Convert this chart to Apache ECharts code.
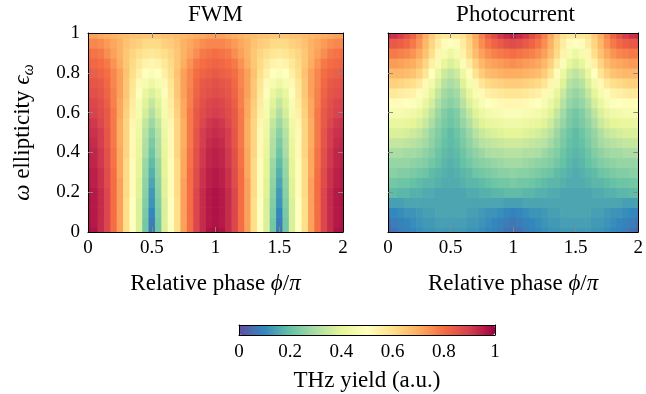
<!DOCTYPE html>
<html><head><meta charset="utf-8">
<script src="https://cdn.jsdelivr.net/npm/echarts@6/dist/echarts.min.js"></script>
<style>html,body{margin:0;padding:0;background:#fff}#c{width:646px;height:394px}</style>
</head><body><div id="c"></div>
<script>
// ---- data ----
const phase = [0,0.05,0.1,0.15,0.2,0.25,0.3,0.35,0.4,0.45,0.5,0.55,0.6,0.65,0.7,0.75,0.8,0.85,0.9,0.95,1,1.05,1.1,1.15,1.2,1.25,1.3,1.35,1.4,1.45,1.5,1.55,1.6,1.65,1.7,1.75,1.8,1.85,1.9,1.95,2];
const ellipticity = [0,0.05,0.1,0.15,0.2,0.25,0.3,0.35,0.4,0.45,0.5,0.55,0.6,0.65,0.7,0.75,0.8,0.85,0.9,0.95,1];

// rows: one per ellipticity value (bottom to top), columns: phase
const fwmRows = [
[0.98,0.97,0.93,0.88,0.80,0.72,0.60,0.50,0.38,0.22,0.07,0.22,0.38,0.50,0.60,0.72,0.80,0.88,0.93,0.97,0.98,0.97,0.93,0.88,0.80,0.72,0.60,0.50,0.38,0.22,0.07,0.22,0.38,0.50,0.60,0.72,0.80,0.88,0.93,0.97,0.98],
[0.97,0.96,0.93,0.88,0.80,0.72,0.60,0.50,0.38,0.22,0.08,0.22,0.38,0.50,0.60,0.72,0.80,0.88,0.93,0.96,0.97,0.96,0.93,0.88,0.80,0.72,0.60,0.50,0.38,0.22,0.08,0.22,0.38,0.50,0.60,0.72,0.80,0.88,0.93,0.96,0.97],
[0.97,0.96,0.93,0.88,0.80,0.72,0.60,0.50,0.38,0.23,0.10,0.23,0.38,0.50,0.60,0.72,0.80,0.88,0.93,0.96,0.97,0.96,0.93,0.88,0.80,0.72,0.60,0.50,0.38,0.23,0.10,0.23,0.38,0.50,0.60,0.72,0.80,0.88,0.93,0.96,0.97],
[0.97,0.96,0.93,0.88,0.80,0.72,0.60,0.50,0.38,0.24,0.12,0.24,0.38,0.50,0.60,0.72,0.80,0.88,0.93,0.96,0.97,0.96,0.93,0.88,0.80,0.72,0.60,0.50,0.38,0.24,0.12,0.24,0.38,0.50,0.60,0.72,0.80,0.88,0.93,0.96,0.97],
[0.97,0.96,0.93,0.88,0.80,0.72,0.61,0.51,0.39,0.25,0.13,0.25,0.39,0.51,0.61,0.72,0.80,0.88,0.93,0.96,0.97,0.96,0.93,0.88,0.80,0.72,0.61,0.51,0.39,0.25,0.13,0.25,0.39,0.51,0.61,0.72,0.80,0.88,0.93,0.96,0.97],
[0.96,0.95,0.92,0.87,0.80,0.72,0.61,0.51,0.39,0.26,0.15,0.26,0.39,0.51,0.61,0.72,0.80,0.87,0.92,0.95,0.96,0.95,0.92,0.87,0.80,0.72,0.61,0.51,0.39,0.26,0.15,0.26,0.39,0.51,0.61,0.72,0.80,0.87,0.92,0.95,0.96],
[0.96,0.95,0.92,0.87,0.80,0.71,0.61,0.51,0.40,0.27,0.17,0.27,0.40,0.51,0.61,0.71,0.80,0.87,0.92,0.95,0.96,0.95,0.92,0.87,0.80,0.71,0.61,0.51,0.40,0.27,0.17,0.27,0.40,0.51,0.61,0.71,0.80,0.87,0.92,0.95,0.96],
[0.95,0.94,0.91,0.86,0.79,0.71,0.61,0.51,0.40,0.28,0.19,0.28,0.40,0.51,0.61,0.71,0.79,0.86,0.91,0.94,0.95,0.94,0.91,0.86,0.79,0.71,0.61,0.51,0.40,0.28,0.19,0.28,0.40,0.51,0.61,0.71,0.79,0.86,0.91,0.94,0.95],
[0.95,0.94,0.91,0.86,0.79,0.71,0.62,0.52,0.41,0.30,0.21,0.30,0.41,0.52,0.62,0.71,0.79,0.86,0.91,0.94,0.95,0.94,0.91,0.86,0.79,0.71,0.62,0.52,0.41,0.30,0.21,0.30,0.41,0.52,0.62,0.71,0.79,0.86,0.91,0.94,0.95],
[0.94,0.93,0.90,0.85,0.78,0.70,0.62,0.52,0.42,0.31,0.23,0.31,0.42,0.52,0.62,0.70,0.78,0.85,0.90,0.93,0.94,0.93,0.90,0.85,0.78,0.70,0.62,0.52,0.42,0.31,0.23,0.31,0.42,0.52,0.62,0.70,0.78,0.85,0.90,0.93,0.94],
[0.93,0.92,0.90,0.85,0.78,0.70,0.62,0.52,0.43,0.32,0.25,0.32,0.43,0.52,0.62,0.70,0.78,0.85,0.90,0.92,0.93,0.92,0.90,0.85,0.78,0.70,0.62,0.52,0.43,0.32,0.25,0.32,0.43,0.52,0.62,0.70,0.78,0.85,0.90,0.92,0.93],
[0.92,0.91,0.88,0.84,0.78,0.70,0.62,0.53,0.44,0.34,0.28,0.34,0.44,0.53,0.62,0.70,0.78,0.84,0.88,0.91,0.92,0.91,0.88,0.84,0.78,0.70,0.62,0.53,0.44,0.34,0.28,0.34,0.44,0.53,0.62,0.70,0.78,0.84,0.88,0.91,0.92],
[0.90,0.89,0.87,0.84,0.78,0.71,0.63,0.55,0.46,0.37,0.31,0.37,0.46,0.55,0.63,0.71,0.78,0.84,0.87,0.89,0.90,0.89,0.87,0.84,0.78,0.71,0.63,0.55,0.46,0.37,0.31,0.37,0.46,0.55,0.63,0.71,0.78,0.84,0.87,0.89,0.90],
[0.89,0.88,0.86,0.83,0.77,0.71,0.64,0.56,0.47,0.39,0.34,0.39,0.47,0.56,0.64,0.71,0.77,0.83,0.86,0.88,0.89,0.88,0.86,0.83,0.77,0.71,0.64,0.56,0.47,0.39,0.34,0.39,0.47,0.56,0.64,0.71,0.77,0.83,0.86,0.88,0.89],
[0.87,0.86,0.85,0.82,0.77,0.72,0.65,0.57,0.49,0.42,0.38,0.42,0.49,0.57,0.65,0.72,0.77,0.82,0.85,0.86,0.87,0.86,0.85,0.82,0.77,0.72,0.65,0.57,0.49,0.42,0.38,0.42,0.49,0.57,0.65,0.72,0.77,0.82,0.85,0.86,0.87],
[0.86,0.85,0.84,0.81,0.76,0.72,0.65,0.58,0.52,0.46,0.43,0.46,0.52,0.58,0.65,0.72,0.76,0.81,0.84,0.85,0.86,0.85,0.84,0.81,0.76,0.72,0.65,0.58,0.52,0.46,0.43,0.46,0.52,0.58,0.65,0.72,0.76,0.81,0.84,0.85,0.86],
[0.84,0.83,0.82,0.80,0.76,0.72,0.66,0.60,0.55,0.50,0.48,0.50,0.55,0.60,0.66,0.72,0.76,0.80,0.82,0.83,0.84,0.83,0.82,0.80,0.76,0.72,0.66,0.60,0.55,0.50,0.48,0.50,0.55,0.60,0.66,0.72,0.76,0.80,0.82,0.83,0.84],
[0.82,0.81,0.80,0.78,0.74,0.70,0.65,0.61,0.57,0.54,0.53,0.54,0.57,0.61,0.65,0.70,0.74,0.78,0.80,0.81,0.82,0.81,0.80,0.78,0.74,0.70,0.65,0.61,0.57,0.54,0.53,0.54,0.57,0.61,0.65,0.70,0.74,0.78,0.80,0.81,0.82],
[0.80,0.79,0.78,0.75,0.72,0.69,0.65,0.62,0.60,0.58,0.57,0.58,0.60,0.62,0.65,0.69,0.72,0.75,0.78,0.79,0.80,0.79,0.78,0.75,0.72,0.69,0.65,0.62,0.60,0.58,0.57,0.58,0.60,0.62,0.65,0.69,0.72,0.75,0.78,0.79,0.80],
[0.76,0.76,0.75,0.73,0.71,0.69,0.66,0.64,0.63,0.61,0.61,0.61,0.63,0.64,0.66,0.69,0.71,0.73,0.75,0.76,0.76,0.76,0.75,0.73,0.71,0.69,0.66,0.64,0.63,0.61,0.61,0.61,0.63,0.64,0.66,0.69,0.71,0.73,0.75,0.76,0.76],
[0.72,0.72,0.71,0.70,0.69,0.68,0.67,0.66,0.66,0.65,0.65,0.65,0.66,0.66,0.67,0.68,0.69,0.70,0.71,0.72,0.72,0.72,0.71,0.70,0.69,0.68,0.67,0.66,0.66,0.65,0.65,0.65,0.66,0.66,0.67,0.68,0.69,0.70,0.71,0.72,0.72]
];

const photoRows = [
[0.04,0.06,0.08,0.09,0.10,0.11,0.12,0.12,0.13,0.13,0.13,0.13,0.13,0.12,0.12,0.11,0.10,0.09,0.08,0.06,0.05,0.06,0.08,0.09,0.10,0.11,0.12,0.12,0.13,0.13,0.13,0.13,0.13,0.12,0.12,0.11,0.10,0.09,0.08,0.06,0.04],
[0.06,0.08,0.09,0.10,0.11,0.12,0.13,0.13,0.14,0.14,0.14,0.14,0.14,0.13,0.13,0.12,0.11,0.10,0.09,0.08,0.07,0.08,0.09,0.10,0.11,0.12,0.13,0.13,0.14,0.14,0.14,0.14,0.14,0.13,0.13,0.12,0.11,0.10,0.09,0.08,0.06],
[0.09,0.10,0.11,0.12,0.12,0.13,0.14,0.14,0.15,0.15,0.15,0.15,0.15,0.14,0.14,0.13,0.12,0.12,0.11,0.10,0.09,0.10,0.11,0.12,0.12,0.13,0.14,0.14,0.15,0.15,0.15,0.15,0.15,0.14,0.14,0.13,0.12,0.12,0.11,0.10,0.09],
[0.14,0.14,0.14,0.15,0.15,0.15,0.15,0.15,0.15,0.15,0.15,0.15,0.15,0.15,0.15,0.15,0.15,0.15,0.15,0.14,0.14,0.14,0.15,0.15,0.15,0.15,0.15,0.15,0.15,0.15,0.15,0.15,0.15,0.15,0.15,0.15,0.15,0.15,0.14,0.14,0.14],
[0.19,0.19,0.18,0.18,0.17,0.17,0.16,0.16,0.15,0.15,0.15,0.15,0.15,0.16,0.16,0.17,0.17,0.18,0.18,0.19,0.19,0.19,0.18,0.18,0.17,0.17,0.16,0.16,0.15,0.15,0.15,0.15,0.15,0.16,0.16,0.17,0.17,0.18,0.18,0.19,0.19],
[0.22,0.22,0.21,0.21,0.20,0.19,0.18,0.18,0.17,0.16,0.16,0.16,0.17,0.18,0.18,0.19,0.20,0.21,0.22,0.22,0.23,0.22,0.22,0.21,0.20,0.19,0.18,0.18,0.17,0.16,0.16,0.16,0.17,0.18,0.18,0.19,0.20,0.21,0.21,0.22,0.22],
[0.25,0.25,0.24,0.24,0.23,0.22,0.21,0.19,0.18,0.17,0.16,0.17,0.18,0.19,0.21,0.22,0.23,0.24,0.25,0.25,0.26,0.25,0.25,0.24,0.23,0.22,0.21,0.19,0.18,0.17,0.16,0.17,0.18,0.19,0.21,0.22,0.23,0.24,0.24,0.25,0.25],
[0.27,0.27,0.27,0.27,0.26,0.25,0.24,0.22,0.20,0.18,0.17,0.18,0.20,0.22,0.24,0.25,0.26,0.27,0.28,0.29,0.29,0.29,0.28,0.27,0.26,0.25,0.24,0.22,0.20,0.18,0.17,0.18,0.20,0.22,0.24,0.25,0.26,0.27,0.27,0.27,0.27],
[0.30,0.30,0.30,0.29,0.29,0.28,0.26,0.24,0.21,0.19,0.18,0.19,0.21,0.24,0.26,0.28,0.30,0.31,0.31,0.32,0.32,0.32,0.31,0.31,0.30,0.28,0.26,0.24,0.21,0.19,0.18,0.19,0.21,0.24,0.26,0.28,0.29,0.29,0.30,0.30,0.30],
[0.34,0.34,0.34,0.33,0.32,0.31,0.29,0.26,0.23,0.20,0.19,0.20,0.23,0.26,0.29,0.32,0.33,0.34,0.35,0.36,0.36,0.36,0.35,0.34,0.33,0.32,0.29,0.26,0.23,0.20,0.19,0.20,0.23,0.26,0.29,0.31,0.32,0.33,0.34,0.34,0.34],
[0.38,0.38,0.38,0.37,0.36,0.34,0.31,0.27,0.24,0.21,0.19,0.21,0.24,0.28,0.32,0.35,0.37,0.38,0.39,0.40,0.40,0.40,0.39,0.38,0.37,0.35,0.32,0.28,0.24,0.21,0.19,0.21,0.24,0.27,0.31,0.34,0.36,0.37,0.38,0.38,0.38],
[0.42,0.42,0.42,0.41,0.40,0.38,0.35,0.30,0.26,0.23,0.21,0.23,0.27,0.31,0.36,0.39,0.41,0.42,0.43,0.44,0.44,0.44,0.43,0.42,0.41,0.39,0.36,0.31,0.27,0.23,0.21,0.23,0.26,0.30,0.35,0.38,0.40,0.41,0.42,0.42,0.42],
[0.46,0.46,0.46,0.45,0.44,0.42,0.38,0.33,0.28,0.24,0.22,0.24,0.29,0.34,0.39,0.43,0.45,0.46,0.47,0.48,0.48,0.48,0.47,0.46,0.45,0.43,0.39,0.34,0.29,0.24,0.22,0.24,0.28,0.33,0.38,0.42,0.44,0.45,0.46,0.46,0.46],
[0.51,0.51,0.51,0.50,0.49,0.47,0.42,0.37,0.31,0.27,0.25,0.27,0.32,0.38,0.43,0.47,0.50,0.51,0.52,0.53,0.53,0.53,0.52,0.51,0.50,0.47,0.43,0.38,0.32,0.27,0.25,0.27,0.31,0.37,0.42,0.47,0.49,0.50,0.51,0.51,0.51],
[0.57,0.57,0.56,0.55,0.54,0.51,0.46,0.40,0.34,0.29,0.27,0.29,0.35,0.41,0.47,0.52,0.55,0.56,0.57,0.58,0.58,0.58,0.57,0.56,0.55,0.52,0.47,0.41,0.35,0.29,0.27,0.29,0.34,0.40,0.46,0.51,0.54,0.55,0.56,0.57,0.57],
[0.63,0.63,0.62,0.61,0.60,0.57,0.52,0.45,0.38,0.32,0.30,0.32,0.39,0.46,0.53,0.58,0.61,0.62,0.63,0.64,0.64,0.64,0.63,0.62,0.61,0.58,0.53,0.46,0.39,0.32,0.30,0.32,0.38,0.45,0.52,0.57,0.60,0.61,0.62,0.63,0.63],
[0.68,0.68,0.68,0.67,0.66,0.63,0.58,0.50,0.42,0.36,0.33,0.36,0.43,0.51,0.59,0.64,0.67,0.68,0.69,0.70,0.70,0.70,0.69,0.68,0.67,0.64,0.59,0.51,0.43,0.36,0.33,0.36,0.42,0.50,0.58,0.63,0.66,0.67,0.68,0.68,0.68],
[0.73,0.73,0.72,0.71,0.70,0.67,0.62,0.55,0.47,0.41,0.38,0.41,0.48,0.56,0.63,0.68,0.71,0.72,0.73,0.74,0.75,0.74,0.73,0.72,0.71,0.68,0.63,0.56,0.48,0.41,0.38,0.41,0.47,0.55,0.62,0.67,0.70,0.71,0.72,0.73,0.73],
[0.78,0.78,0.77,0.76,0.74,0.71,0.66,0.60,0.53,0.46,0.43,0.46,0.54,0.61,0.67,0.72,0.75,0.77,0.78,0.79,0.80,0.79,0.78,0.77,0.75,0.72,0.67,0.61,0.54,0.46,0.43,0.46,0.53,0.60,0.66,0.71,0.74,0.76,0.77,0.78,0.78],
[0.85,0.84,0.83,0.81,0.78,0.74,0.68,0.62,0.56,0.51,0.50,0.51,0.56,0.62,0.69,0.75,0.79,0.82,0.84,0.86,0.87,0.86,0.84,0.82,0.79,0.75,0.69,0.62,0.56,0.51,0.50,0.51,0.56,0.62,0.68,0.74,0.78,0.81,0.83,0.84,0.85],
[0.93,0.92,0.90,0.86,0.82,0.76,0.70,0.64,0.59,0.57,0.57,0.57,0.59,0.64,0.71,0.77,0.83,0.87,0.91,0.93,0.95,0.93,0.91,0.87,0.83,0.77,0.71,0.64,0.59,0.57,0.57,0.57,0.59,0.64,0.70,0.76,0.82,0.86,0.90,0.92,0.93]
];

const panelTitles = ['FWM', 'Photocurrent'];
const xTickMarks = [0.5, 1, 1.5];
const yTickMarks = [0.2, 0.4, 0.6, 0.8];
const spectral = ['#5e4fa2','#3288bd','#66c2a5','#abdda4','#e6f598','#ffffbf','#fee08b','#fdae61','#f46d43','#d53e4f','#9e0142'];

// ---- chart ----
const FONT = 'Liberation Serif';
const grids = [
  {left: 88, top: 33, width: 255, height: 199},
  {left: 388, top: 33, width: 255, height: 199},
  {left: 239, top: 325, width: 256, height: 10}
];
function cells(rows) {
  const out = [];
  rows.forEach((row, j) => row.forEach((v, i) => out.push([phase[i], ellipticity[j], v])));
  return out;
}
const dx = phase[1] - phase[0], dy = ellipticity[1] - ellipticity[0];
function renderCell(params, api) {
  const x = api.value(0), y = api.value(1);
  const a = api.coord([x - dx / 2, y + dy / 2]);
  const b = api.coord([x + dx / 2, y - dy / 2]);
  return {type: 'rect', shape: {x: a[0], y: a[1], width: b[0] - a[0] + 0.7, height: b[1] - a[1] + 0.7},
          style: {fill: api.visual('color')}};
}
const lbl = {fontFamily: FONT, fontSize: 19, color: '#000'};
const line = {show: true, onZero: false, lineStyle: {color: '#000', width: 1}};
const xAxes = [], yAxes = [];
[0, 1].forEach(g => {
  xAxes.push({type: 'value', gridIndex: g, position: 'bottom', min: 0, max: 2, interval: 0.5, z: 10,
    axisLine: line, splitLine: {show: false},
    axisTick: {show: true, inside: true, length: 5, customValues: xTickMarks, lineStyle: {color: '#888'}},
    axisLabel: Object.assign({margin: 7, formatter: v => String(v)}, lbl),
    name: 'Relative phase {i|ϕ}/{i|π}', nameLocation: 'middle', nameGap: 40,
    nameTextStyle: {fontFamily: FONT, fontSize: 23, color: '#000',
      rich: {i: {fontFamily: FONT, fontSize: 23, fontStyle: 'italic', color: '#000'}}}});
  xAxes.push({type: 'value', gridIndex: g, position: 'top', min: 0, max: 2, interval: 0.5, z: 10,
    axisLine: line, splitLine: {show: false}, axisLabel: {show: false},
    axisTick: {show: true, inside: true, length: 5, customValues: xTickMarks, lineStyle: {color: '#888'}}});
  yAxes.push({type: 'value', gridIndex: g, position: 'left', min: 0, max: 1, interval: 0.2, z: 10,
    axisLine: line, splitLine: {show: false},
    axisTick: {show: true, inside: true, length: 5, customValues: yTickMarks, lineStyle: {color: '#888'}},
    axisLabel: Object.assign({show: g === 0, margin: 8, formatter: v => String(v)}, lbl),
    name: g === 0 ? '{i|ω} ellipticity {i|ϵ}{s|ω}' : '', nameLocation: 'middle', nameGap: 51, nameRotate: 90,
    nameTextStyle: {fontFamily: FONT, fontSize: 23, color: '#000',
      rich: {i: {fontFamily: FONT, fontSize: 23, fontStyle: 'italic', color: '#000'},
             s: {fontFamily: FONT, fontSize: 16, fontStyle: 'italic', color: '#000', padding: [12, 0, 0, 0]}}}});
  yAxes.push({type: 'value', gridIndex: g, position: 'right', min: 0, max: 1, interval: 0.2, z: 10,
    axisLine: line, splitLine: {show: false}, axisLabel: {show: false},
    axisTick: {show: true, inside: true, length: 5, customValues: yTickMarks, lineStyle: {color: '#888'}}});
});
// colour bar frame + labels
xAxes.push({type: 'value', gridIndex: 2, position: 'bottom', min: 0, max: 1, interval: 0.2, z: 10,
  axisLine: line, splitLine: {show: false}, axisTick: {show: false},
  axisLabel: Object.assign({margin: 8, formatter: v => String(v)}, lbl),
  name: 'THz yield (a.u.)', nameLocation: 'middle', nameGap: 34,
  nameTextStyle: {fontFamily: FONT, fontSize: 23, color: '#000'}});
xAxes.push({type: 'value', gridIndex: 2, position: 'top', min: 0, max: 1, z: 10,
  axisLine: line, splitLine: {show: false}, axisTick: {show: false}, axisLabel: {show: false}});
yAxes.push({type: 'value', gridIndex: 2, position: 'left', min: 0, max: 1, z: 10,
  axisLine: line, splitLine: {show: false}, axisTick: {show: false}, axisLabel: {show: false}});
yAxes.push({type: 'value', gridIndex: 2, position: 'right', min: 0, max: 1, z: 10,
  axisLine: line, splitLine: {show: false}, axisTick: {show: false}, axisLabel: {show: false}});

const chart = echarts.init(document.getElementById('c'), null, {renderer: 'canvas'});
chart.setOption({
  animation: false,
  backgroundColor: '#fff',
  grid: grids,
  xAxis: xAxes,
  yAxis: yAxes,
  visualMap: {type: 'continuous', min: 0, max: 1, seriesIndex: [0, 1], dimension: 2,
    orient: 'horizontal', left: grids[2].left, top: grids[2].top, itemWidth: grids[2].height, itemHeight: grids[2].width,
    padding: 0, calculable: false, hoverLink: false, inRange: {color: spectral}},
  graphic: panelTitles.map((t, k) => ({type: 'text', x: grids[k].left + grids[k].width / 2, y: 3,
    style: {text: t, font: '23px "' + FONT + '"', fill: '#000', align: 'center', verticalAlign: 'top'}})),
  series: [
    {type: 'custom', xAxisIndex: 0, yAxisIndex: 0, renderItem: renderCell, clip: true, data: cells(fwmRows), encode: {x: 0, y: 1}},
    {type: 'custom', xAxisIndex: 2, yAxisIndex: 2, renderItem: renderCell, clip: true, data: cells(photoRows), encode: {x: 0, y: 1}}
  ]
});
</script></body></html>
